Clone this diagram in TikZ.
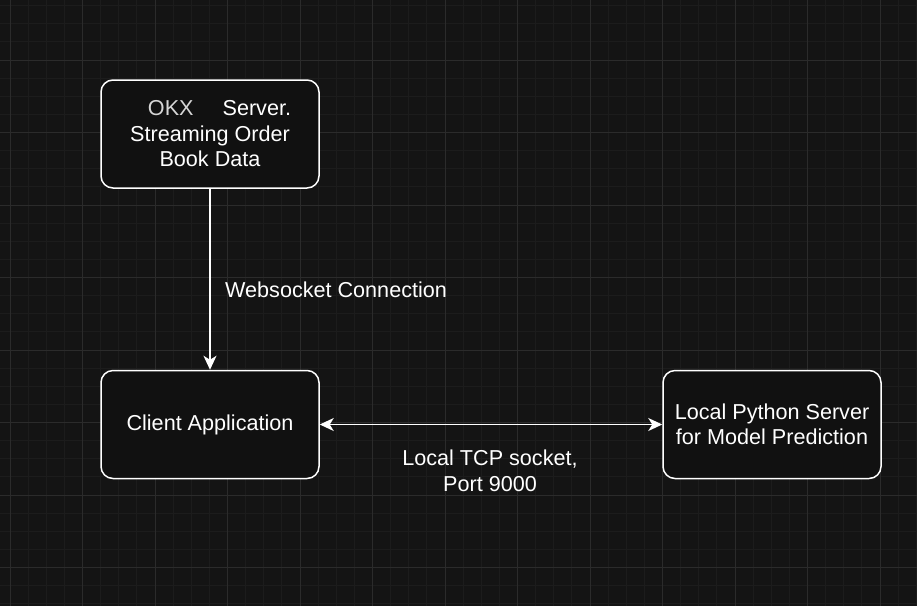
\documentclass[tikz,border=0pt]{standalone}
\usepackage{fontspec}
\setmainfont{Liberation Sans}
\usetikzlibrary{arrows.meta}

\definecolor{bgdark}{HTML}{141414}
\definecolor{gridminor}{HTML}{1C1C1C}
\definecolor{gridmajor}{HTML}{2B2B2B}
\definecolor{boxfill}{HTML}{111111}
\definecolor{okxgrey}{HTML}{D6D6D6}

\tikzset{
	block/.style = {draw = white, line width = 1.5pt, fill = boxfill, rounded corners = 12pt,
		minimum width = 218pt, minimum height = 108pt, inner sep = 0pt,
		align = center, text = white, font = \fontsize{21.6}{25.5}\selectfont},
	edgetext/.style = {inner sep = 0pt, text = white, font = \fontsize{21.6}{25.5}\selectfont},
	link/.style = {draw = white, line width = 1.4pt},
	tip/.tip = {Stealth[length = 14pt, width = 13pt, inset = 4pt]}
}

\begin{document}
\begin{tikzpicture}[x = 1pt, y = -1pt]
	% Hintergrund:
	\fill [bgdark] (0, 0) rectangle (917, 606);
	\useasboundingbox (0, 0) rectangle (917, 606);

	% Raster:
	\begin{scope}
		\clip (0, 0) rectangle (917, 606);
		\foreach \i in {0, ..., 52} {
			\draw [gridminor, line width = 0.8pt] ({-8.125 + 18.125*\i}, 0) -- ({-8.125 + 18.125*\i}, 606);
		}
		\foreach \i in {0, ..., 35} {
			\draw [gridminor, line width = 0.8pt] (0, {-12.5 + 18.125*\i}) -- (917, {-12.5 + 18.125*\i});
		}
		\foreach \i in {0, ..., 12} {
			\draw [gridmajor, line width = 0.8pt] ({10 + 72.5*\i}, 0) -- ({10 + 72.5*\i}, 606);
		}
		\foreach \i in {0, ..., 9} {
			\draw [gridmajor, line width = 0.8pt] (0, {-12.5 + 72.5*\i}) -- (917, {-12.5 + 72.5*\i});
		}
	\end{scope}

	% Bloecke:
	\node [block] (okx) at (210, 134) {\hspace*{19pt}{\color{okxgrey}OKX}\hspace{29pt}Server.\\Streaming Order\\Book Data};
	\node [block] (client) at (210, 424.5) {Client Application};
	\node [block] (python) at (772, 424.5) {Local Python Server\\for Model Prediction};

	% Verbindungen:
	\draw [link, -tip] (okx) -- (client);
	\draw [link, tip-tip] (client) -- (python);

	\node [edgetext, anchor = west] (wslabel) at (225, 290) {Websocket Connection};
	\node [edgetext, align = center] (tcplabel) at (490, 471) {Local TCP socket,\\Port 9000};
\end{tikzpicture}
\end{document}
